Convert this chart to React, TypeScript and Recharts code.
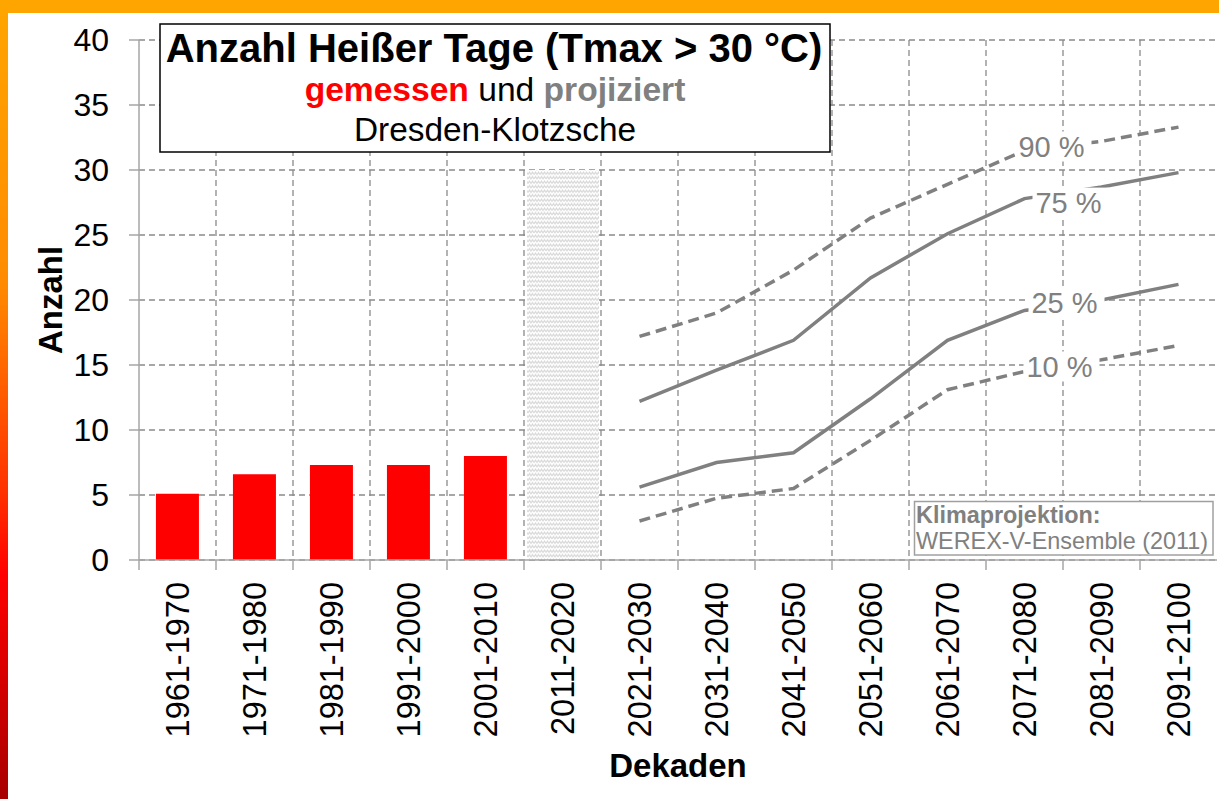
import React from "react";
import {
  ComposedChart,
  Bar,
  Line,
  XAxis,
  YAxis,
  CartesianGrid,
  ReferenceArea,
  Customized,
} from "recharts";

const dekaden = [
  "1961-1970",
  "1971-1980",
  "1981-1990",
  "1991-2000",
  "2001-2010",
  "2011-2020",
  "2021-2030",
  "2031-2040",
  "2041-2050",
  "2051-2060",
  "2061-2070",
  "2071-2080",
  "2081-2090",
  "2091-2100",
];

// gemessene Werte (Balken)
const gemessen = [5.1, 6.6, 7.3, 7.3, 8.0, null, null, null, null, null, null, null, null, null];

// projizierte Perzentile
const p90 = [null, null, null, null, null, null, 17.2, 19.0, 22.3, 26.3, 28.9, 31.5, 32.2, 33.3];
const p75 = [null, null, null, null, null, null, 12.2, 14.6, 16.9, 21.7, 25.1, 27.8, 28.7, 29.8];
const p25 = [null, null, null, null, null, null, 5.6, 7.5, 8.25, 12.4, 16.9, 19.2, 20.0, 21.2];
const p10 = [null, null, null, null, null, null, 3.0, 4.75, 5.5, 9.2, 13.1, 14.5, 15.4, 16.5];

const yTicks = [0, 5, 10, 15, 20, 25, 30, 35, 40];

// Lücke zwischen Messung und Projektion
const lueckeDekade = "2011-2020";
const lueckeWert = 30;

// Dekade, an der die Perzentil-Beschriftungen stehen
const labelDekade = "2071-2080";

const data = dekaden.map((d, i) => ({
  dekade: d,
  gemessen: gemessen[i],
  p90: p90[i],
  p75: p75[i],
  p25: p25[i],
  p10: p10[i],
}));

const FONT = '"Liberation Sans", Arial, sans-serif';
const GRAU = "#808080";
const ACHSE = "#a6a6a6";
const labelIndex = dekaden.indexOf(labelDekade);

function DekadenTick(props: any) {
  const { x, y, payload } = props;
  const half = payload && payload.offset ? payload.offset : 38.5;
  return (
    <g>
      <line x1={x - half} x2={x - half} y1={y - 10} y2={y} stroke={ACHSE} strokeWidth={1.5} />
      <text
        x={x}
        y={y + 12}
        transform={`rotate(-90, ${x}, ${y + 12})`}
        textAnchor="end"
        dy="0.36em"
        fontSize={32.5}
        fontFamily={FONT}
        fill="#000"
      >
        {payload.value}
      </text>
    </g>
  );
}

function prozentLabel(text: string, dx: number, dy: number) {
  return (props: any) => {
    if (props.index !== labelIndex) return null;
    const px = props.x ?? props.viewBox?.x;
    const py = props.y ?? props.viewBox?.y;
    const cx = px + dx;
    const cy = py + dy;
    return (
      <g>
        <rect x={cx - 36} y={cy - 15} width={76} height={30} fill="#fff" />
        <text
          x={cx}
          y={cy}
          dy="0.35em"
          textAnchor="middle"
          fontSize={29}
          fontFamily={FONT}
          fill={GRAU}
        >
          {text}
        </text>
      </g>
    );
  };
}

function Kaesten() {
  return (
    <g fontFamily={FONT}>
      <rect x={160} y={24} width={670} height={128} fill="#fff" stroke="#000" strokeWidth={1.5} />
      <text x={494} y={62} textAnchor="middle" fontSize={40} fontWeight="bold" fill="#000">
        Anzahl Heißer Tage (Tmax &gt; 30 °C)
      </text>
      <text x={495} y={101} textAnchor="middle" fontSize={33.6} fill="#000">
        <tspan fill="#ff0000" fontWeight="bold">gemessen</tspan>
        <tspan>{" und "}</tspan>
        <tspan fill={GRAU} fontWeight="bold">projiziert</tspan>
      </text>
      <text x={495} y={141} textAnchor="middle" fontSize={33.4} fill="#000">
        Dresden-Klotzsche
      </text>
      <rect x={914.5} y={501.5} width={298.5} height={53.5} fill="#fff" stroke="#a0a0a0" strokeWidth={1.5} />
      <text x={916} y={523} fontSize={23.4} fontWeight="bold" fill={GRAU}>
        Klimaprojektion:
      </text>
      <text x={916} y={549} fontSize={23.4} fill={GRAU}>
        WEREX-V-Ensemble (2011)
      </text>
    </g>
  );
}

function YLabel(props: any) {
  const vb = props.viewBox || { x: 0, y: 40, width: 139, height: 520 };
  const cx = vb.x + 62;
  const cy = vb.y + vb.height / 2;
  return (
    <text
      x={cx}
      y={cy}
      transform={`rotate(-90, ${cx}, ${cy})`}
      textAnchor="middle"
      fontSize={33}
      fontWeight="bold"
      fontFamily={FONT}
      fill="#000"
    >
      Anzahl
    </text>
  );
}

export default function App() {
  return (
    <div
      style={{
        position: "absolute",
        left: 0,
        top: 0,
        width: 1219,
        height: 799,
        background: "#fff",
        overflow: "hidden",
        fontFamily: FONT,
      }}
    >
      <svg width={0} height={0} style={{ position: "absolute" }}>
        <defs>
          <pattern id="zickzack" width={6} height={4.5} patternUnits="userSpaceOnUse">
            <rect width={6} height={4.5} fill="#fff" />
            <polyline
              points="0,3.5 1.5,1 3,3.5 4.5,1 6,3.5"
              fill="none"
              stroke="#d6d6d6"
              strokeWidth={1}
            />
          </pattern>
        </defs>
      </svg>
      <ComposedChart
        width={1219}
        height={799}
        data={data}
        margin={{ top: 40, right: 2, bottom: 0, left: 0 }}
        barCategoryGap="22%"
      >
        <CartesianGrid
          stroke="#8a8a8a"
          strokeDasharray="6 4"
          strokeWidth={1.3}
          verticalCoordinatesGenerator={({ offset }: any) =>
            dekaden.slice(1).map((_, i) => offset.left + ((i + 1) * offset.width) / dekaden.length)
          }
        />
        <ReferenceArea
          x1={lueckeDekade}
          x2={lueckeDekade}
          y1={0}
          y2={lueckeWert}
          shape={(p: any) => (
            <rect x={p.x + 3} y={p.y} width={p.width - 5} height={p.height} fill="url(#zickzack)" />
          )}
        />
        <ReferenceArea fill="none" stroke={ACHSE} strokeWidth={1.5} />
        <XAxis
          dataKey="dekade"
          interval={0}
          height={239}
          tickSize={10}
          tickMargin={0}
          tickLine={false}
          axisLine={{ stroke: ACHSE, strokeWidth: 1.5 }}
          tick={<DekadenTick />}
          label={{
            value: "Dekaden",
            position: "insideBottom",
            offset: 22,
            fontSize: 33,
            fontWeight: "bold",
            fontFamily: FONT,
            fill: "#000",
          }}
        />
        <YAxis
          domain={[0, 40]}
          ticks={yTicks}
          interval={0}
          width={139}
          tickSize={10}
          tickMargin={20}
          axisLine={{ stroke: ACHSE, strokeWidth: 1.5 }}
          tickLine={{ stroke: ACHSE, strokeWidth: 1.5 }}
          tick={{ fill: "#000", fontSize: 32, fontFamily: FONT }}
          label={<YLabel />}
        />
        <Bar dataKey="gemessen" fill="#ff0000" isAnimationActive={false} />
        <Line
          dataKey="p90"
          stroke={GRAU}
          strokeWidth={3.5}
          strokeDasharray="11 6"
          dot={false}
          activeDot={false}
          isAnimationActive={false}
          label={prozentLabel("90 %", 27, -4)}
        />
        <Line
          dataKey="p75"
          stroke={GRAU}
          strokeWidth={3.5}
          dot={false}
          activeDot={false}
          isAnimationActive={false}
          label={prozentLabel("75 %", 44, 4)}
        />
        <Line
          dataKey="p25"
          stroke={GRAU}
          strokeWidth={3.5}
          dot={false}
          activeDot={false}
          isAnimationActive={false}
          label={prozentLabel("25 %", 40, -8)}
        />
        <Line
          dataKey="p10"
          stroke={GRAU}
          strokeWidth={3.5}
          strokeDasharray="11 6"
          dot={false}
          activeDot={false}
          isAnimationActive={false}
          label={prozentLabel("10 %", 35, -5)}
        />
        <Customized component={Kaesten} />
      </ComposedChart>
      <div
        style={{
          position: "absolute",
          left: 0,
          top: 0,
          width: 8,
          height: 799,
          background:
            "linear-gradient(to bottom, #ffa500 0%, #ff8c00 35%, #ff3000 62%, #ff0000 72%, #a80000 100%)",
        }}
      />
      <div style={{ position: "absolute", left: 0, top: 0, width: 1219, height: 13, background: "#ffa500" }} />
    </div>
  );
}
